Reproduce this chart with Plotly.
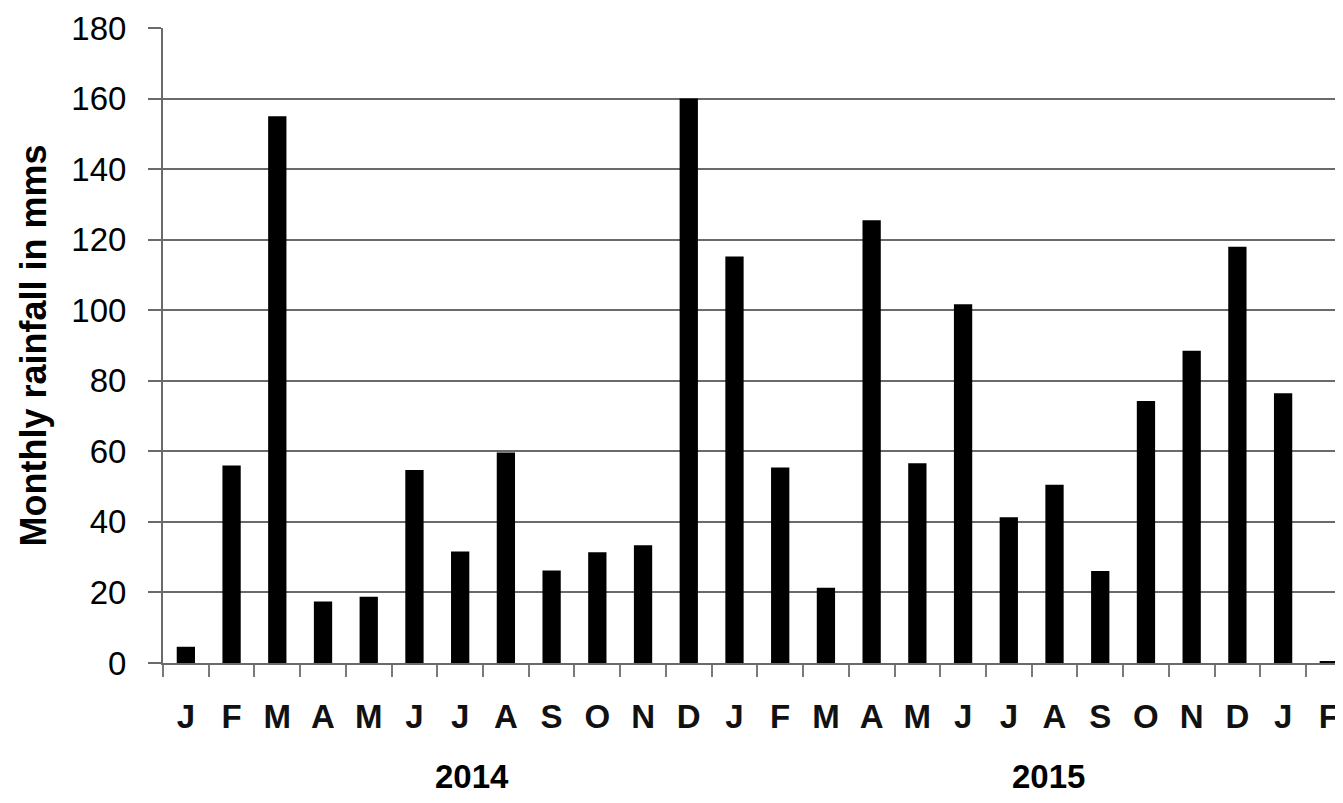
import plotly.graph_objects as go

months = ["J", "F", "M", "A", "M", "J", "J", "A", "S", "O", "N", "D",
          "J", "F", "M", "A", "M", "J", "J", "A", "S", "O", "N", "D",
          "J", "F"]
rainfall = [4.6, 56, 155, 17.4, 18.8, 54.7, 31.6, 59.7, 26.2, 31.4, 33.4, 160,
            115.2, 55.4, 21.3, 125.5, 56.6, 101.7, 41.3, 50.5, 26.1, 74.3, 88.5, 118,
            76.5, 0.5]
years = ["2014", "2015"]
year_pos = [6.25, 18.86]
y_ticks = [0, 20, 40, 60, 80, 100, 120, 140, 160, 180]
y_title = "Monthly rainfall in mms"

idx = list(range(len(months)))

fig = go.Figure()
fig.add_trace(go.Bar(x=idx, y=rainfall, marker=dict(color="#000000", line=dict(width=0)),
                     width=0.4))

font_family = "Liberation Sans, Arial, sans-serif"

# page body has an 8px default margin, so the figure is sized to fit inside the window
fig.update_layout(
    width=1335, height=787,
    margin=dict(l=155, r=0, t=20, b=132, autoexpand=False),
    paper_bgcolor="white", plot_bgcolor="white",
    showlegend=False,
    font=dict(family=font_family, color="#000000"),
)
fig.update_xaxes(
    tickmode="array", tickvals=idx, ticktext=[f"<b>{m}</b>" for m in months],
    range=[-0.5, 25.31],
    showgrid=False, zeroline=False, automargin=False,
    showline=True, linecolor="#6a6a6a", linewidth=2,
    ticks="", tickfont=dict(size=33, family=font_family, color="#111111"),
    ticklabelstandoff=23,
    minor=dict(tickvals=[i - 0.5 for i in range(len(months) + 1)],
               ticks="outside", ticklen=12, tickcolor="#7a7a7a", tickwidth=2),
)
fig.update_yaxes(
    range=[0, 180], tickmode="array", tickvals=y_ticks,
    showgrid=True, gridcolor="#6a6a6a", gridwidth=2,
    zeroline=False, automargin=False,
    showline=True, linecolor="#6a6a6a", linewidth=2,
    ticks="outside", ticklen=13, tickcolor="#6a6a6a", tickwidth=2,
    tickfont=dict(size=33, family=font_family, color="#000000"),
    ticklabelstandoff=15,
)

fig.add_annotation(x=0, y=0.5, xref="paper", yref="paper", xshift=-130,
                   text=f"<b>{y_title}</b>", textangle=-90, showarrow=False,
                   xanchor="center", yanchor="middle",
                   font=dict(size=36, family=font_family, color="#000000"))

for yr, pos in zip(years, year_pos):
    fig.add_annotation(x=pos, y=0, xref="x", yref="paper", yshift=-113,
                       xanchor="center", yanchor="middle",
                       text=f"<b>{yr}</b>", showarrow=False,
                       font=dict(size=33, family=font_family, color="#000000"))

fig.write_html("out.html")
